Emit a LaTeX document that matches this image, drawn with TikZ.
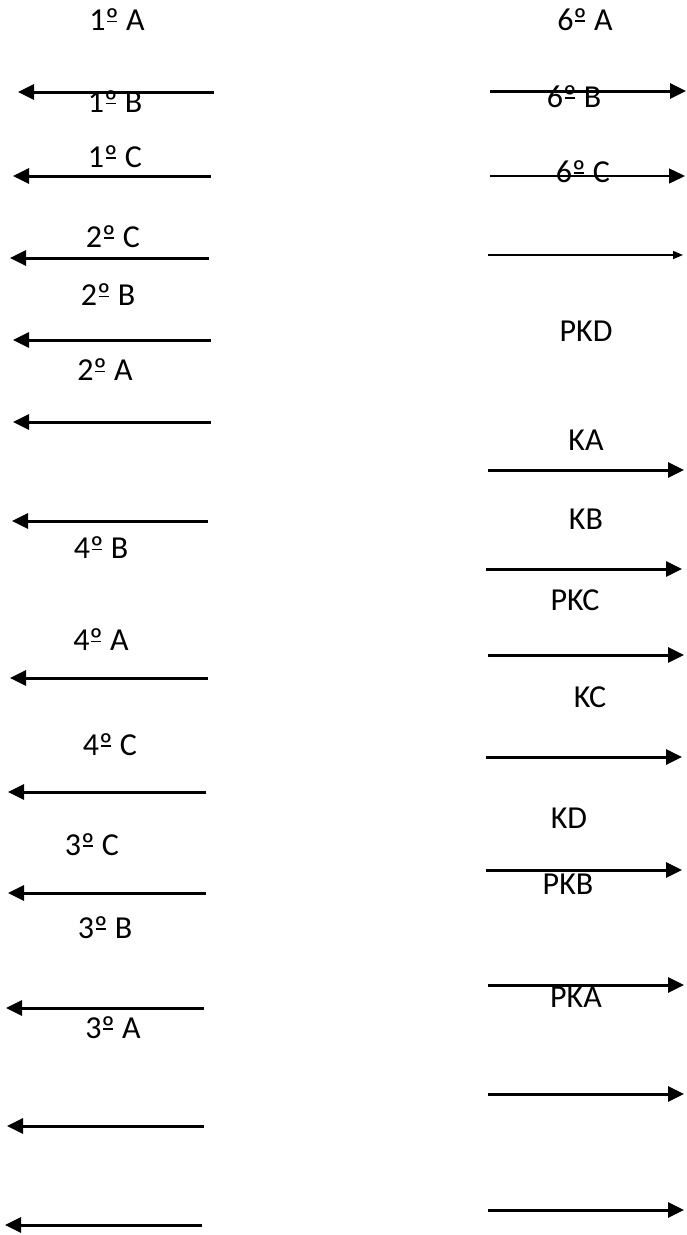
\documentclass[tikz,border=0pt]{standalone}
\usepackage{fontspec}
\setmainfont{Carlito}
\usetikzlibrary{arrows.meta}

% ordinal s podtrzenim
\newcommand{\ord}{\setbox0\hbox{º}\rlap{\hbox to\wd0{\hss\rule[.27em]{.75\wd0}{.055em}\hss}}\box0}

\tikzstyle{popis}=[inner sep=0pt, font=\fontsize{32}{38}\selectfont]
\tikzstyle{sipka}=[line width=3pt, -{Triangle[length=16pt,width=15pt]}]
\tikzstyle{tenka}=[line width=1.5pt, -{Triangle[length=16pt,width=15pt]}]

\begin{document}
\begin{tikzpicture}[x=1pt, y=-1pt]
            \useasboundingbox (0,0) rectangle (686,1235);

            % Popisky vlevo
            \node[popis] (p1A) at (117,20) {1\ord{} A};
            \node[popis] (p1B) at (115,102) {1\ord{} B};
            \node[popis] (p1C) at (115,157) {1\ord{} C};
            \node[popis] (p2C) at (113,237) {2\ord{} C};
            \node[popis] (p2B) at (108,295) {2\ord{} B};
            \node[popis] (p2A) at (105,370) {2\ord{} A};
            \node[popis] (p4B) at (101,548) {4\ord{} B};
            \node[popis] (p4A) at (101,640) {4\ord{} A};
            \node[popis] (p4C) at (110,745) {4\ord{} C};
            \node[popis] (p3C) at (92,845) {3\ord{} C};
            \node[popis] (p3B) at (105,928) {3\ord{} B};
            \node[popis] (p3A) at (113,1028) {3\ord{} A};

            % Popisky vpravo
            \node[popis] (p6A) at (585,20) {6\ord{} A};
            \node[popis] (p6B) at (574,97) {6\ord{} B};
            \node[popis] (p6C) at (583,172) {6\ord{} C};
            \node[popis] (pPKD) at (586,331) {PKD};
            \node[popis] (pKA) at (586,440) {KA};
            \node[popis] (pKB) at (586,519) {KB};
            \node[popis] (pPKC) at (575,600) {PKC};
            \node[popis] (pKC) at (590,697) {KC};
            \node[popis] (pKD) at (569,818) {KD};
            \node[popis] (pPKB) at (568,884) {PKB};
            \node[popis] (pPKA) at (576,997) {PKA};

            % Konce sipek vlevo
            \coordinate (L1a) at (214,92);   \coordinate (L1b) at (18,92);
            \coordinate (L2a) at (211,176);  \coordinate (L2b) at (13,176);
            \coordinate (L3a) at (209,258);  \coordinate (L3b) at (10,258);
            \coordinate (L4a) at (211,340);  \coordinate (L4b) at (13,340);
            \coordinate (L5a) at (211,422);  \coordinate (L5b) at (13,422);
            \coordinate (L6a) at (208,521);  \coordinate (L6b) at (12,521);
            \coordinate (L7a) at (208,678);  \coordinate (L7b) at (10,678);
            \coordinate (L8a) at (206,792);  \coordinate (L8b) at (8,792);
            \coordinate (L9a) at (206,893);  \coordinate (L9b) at (8,893);
            \coordinate (L10a) at (204,1008); \coordinate (L10b) at (6,1008);
            \coordinate (L11a) at (204,1126); \coordinate (L11b) at (7,1126);
            \coordinate (L12a) at (202,1225); \coordinate (L12b) at (5,1225);

            % Konce sipek vpravo
            \coordinate (R1a) at (490,91);   \coordinate (R1b) at (686,91);
            \coordinate (R2a) at (490,176);  \coordinate (R2b) at (685,176);
            \coordinate (R3a) at (488,255);  \coordinate (R3b) at (683,255);
            \coordinate (R4a) at (488,470);  \coordinate (R4b) at (684,470);
            \coordinate (R5a) at (486,569);  \coordinate (R5b) at (682,569);
            \coordinate (R6a) at (488,655);  \coordinate (R6b) at (684,655);
            \coordinate (R7a) at (486,757);  \coordinate (R7b) at (682,757);
            \coordinate (R8a) at (486,870);  \coordinate (R8b) at (682,870);
            \coordinate (R9a) at (488,985);  \coordinate (R9b) at (684,985);
            \coordinate (R10a) at (488,1094); \coordinate (R10b) at (684,1094);
            \coordinate (R11a) at (488,1210); \coordinate (R11b) at (684,1210);

            % Sipky vlevo
            \foreach \i in {1,...,12}
                \draw[sipka] (L\i a) -- (L\i b);

            % Sipky vpravo
            \draw[sipka] (R1a) -- (R1b);
            \draw[tenka] (R2a) -- (R2b);
            \draw[line width=1.5pt, -{Triangle[length=10pt,width=8pt]}] (R3a) -- (R3b);
            \foreach \i in {4,...,11}
                \draw[sipka] (R\i a) -- (R\i b);
        \end{tikzpicture}
\end{document}
